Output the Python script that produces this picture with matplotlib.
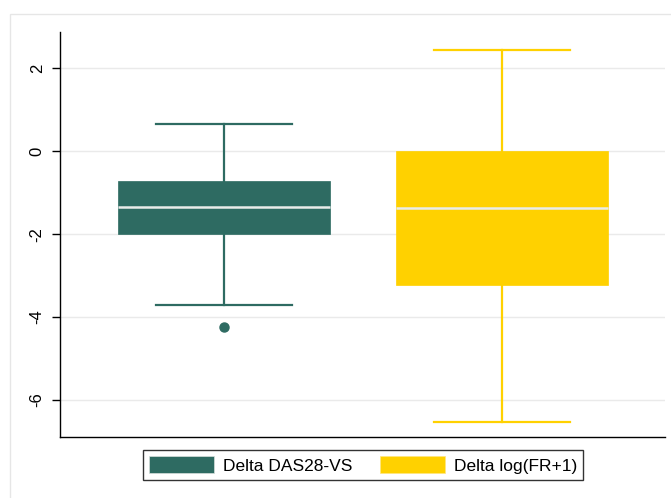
import matplotlib
matplotlib.use("Agg")
import matplotlib.pyplot as plt
from matplotlib.patches import Patch, Rectangle

plt.rcParams['font.family'] = ['Liberation Sans', 'DejaVu Sans']

# Series summary statistics
labels = ["Delta DAS28-VS", "Delta log(FR+1)"]
colors = ["#2E6B62", "#FFD100"]
medians = [-1.35, -1.38]
q1 = [-2.0, -3.23]
q3 = [-0.71, 0.0]
whis_lo = [-3.70, -6.53]
whis_hi = [0.65, 2.44]
outliers = [[-4.25], []]

yticks = [2, 0, -2, -4, -6]

fig = plt.figure(figsize=(6.71, 4.98), dpi=100)

# light outer graph-region frame
fig.patches.append(Rectangle((10 / 671, -0.2), 1.2, 0.2 + (498 - 14) / 498,
                             transform=fig.transFigure, fill=False,
                             edgecolor="#e6e6e6", linewidth=1.0))

ax = fig.add_axes([60 / 671, 61 / 498, 605 / 671, 405 / 498])

stats = []
for i in range(len(labels)):
    stats.append(dict(med=medians[i], q1=q1[i], q3=q3[i],
                      whislo=whis_lo[i], whishi=whis_hi[i],
                      fliers=outliers[i], label=labels[i]))

for i, st in enumerate(stats):
    c = colors[i]
    ax.bxp([st], positions=[i + 1], widths=0.763, capwidths=0.49,
           patch_artist=True, showfliers=True,
           boxprops=dict(facecolor=c, edgecolor=c, linewidth=0.5),
           whiskerprops=dict(color=c, linewidth=1.6),
           capprops=dict(color=c, linewidth=1.6),
           medianprops=dict(color="#e9ece9", linewidth=1.8),
           flierprops=dict(marker="o", markerfacecolor=c, markeredgecolor=c,
                           markersize=6.5, linestyle="none"),
           zorder=3)

ax.set_xlim(0.41, 2.586)
ax.set_ylim(-6.89, 2.87)
ax.set_yticks(yticks)
ax.set_yticklabels([str(t) for t in yticks], rotation=90, va="center",
                   fontsize=12)
ax.set_xticks([])
ax.grid(axis="y", color="#eaeaea", linewidth=1.0, zorder=0)
ax.set_axisbelow(True)
for s in ["top", "right"]:
    ax.spines[s].set_visible(False)
for s in ["left", "bottom"]:
    ax.spines[s].set_linewidth(1.0)
    ax.spines[s].set_color("black")
ax.tick_params(axis="y", length=6, width=1.0, pad=5)

handles = [Patch(facecolor=colors[i], edgecolor="#d8e0dc" if i == 0 else "#ffe680",
                 linewidth=0.5, label=labels[i]) for i in range(len(labels))]
leg = fig.legend(handles=handles, loc="center", ncol=2,
                 bbox_to_anchor=(363 / 671, (498 - 465) / 498),
                 fontsize=12.5, frameon=True, fancybox=False, shadow=False,
                 handlelength=3.75, handleheight=1.1, handletextpad=0.5,
                 columnspacing=1.6, borderpad=0.35, borderaxespad=0)
leg.get_frame().set_edgecolor("black")
leg.get_frame().set_linewidth(1.0)

fig.savefig("out.png", dpi=100, facecolor="white")
